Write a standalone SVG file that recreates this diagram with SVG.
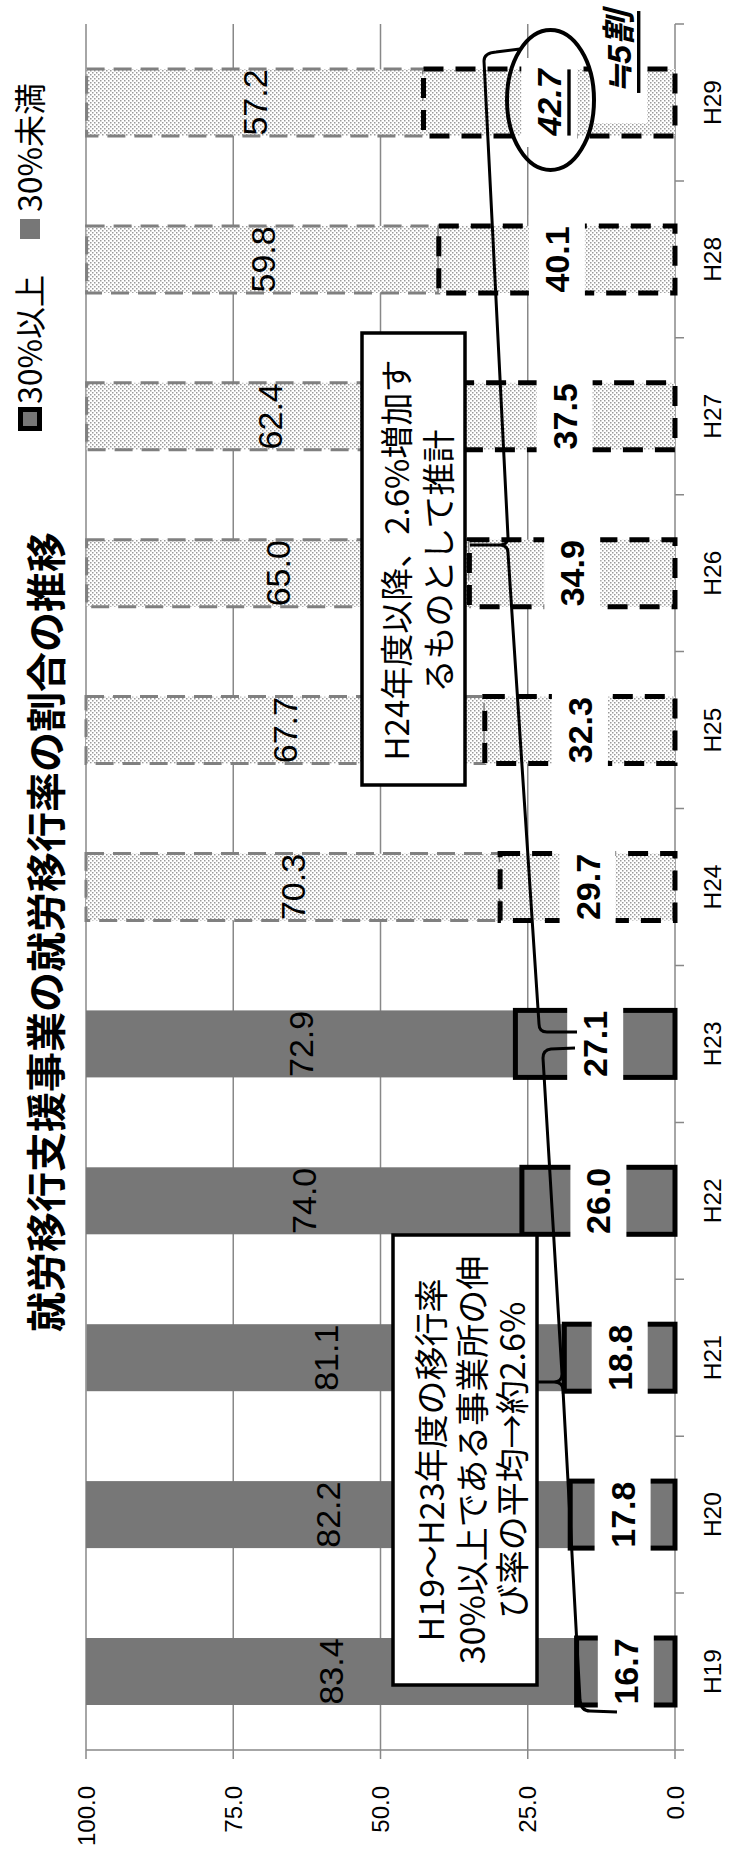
<svg xmlns="http://www.w3.org/2000/svg" width="731" height="1859" viewBox="0 0 731 1859">
<defs>
<pattern id="dots" width="4" height="4" patternUnits="userSpaceOnUse">
<rect width="4" height="4" fill="#ffffff"/>
<rect x="0" y="0" width="1.5" height="1.5" fill="#9a9a9a"/>
<rect x="2" y="2" width="1.5" height="1.5" fill="#9a9a9a"/>
</pattern>
</defs>
<style>
.grid{stroke:#888;stroke-width:1.5;fill:none}
.dk{fill:#777}
.dkb{fill:#777;stroke:#000;stroke-width:5}
.pt{fill:url(#dots);stroke:#808080;stroke-width:3;stroke-dasharray:18 9}
.ptb{fill:url(#dots);stroke:#000;stroke-width:5;stroke-dasharray:20 12}
.lbg{fill:#fff}
text{font-family:"Liberation Sans","Noto Sans CJK JP",sans-serif;fill:#000;dominant-baseline:central}
.v{font-size:34px;text-anchor:middle}
.vb{font-size:34px;font-weight:bold;text-anchor:middle}
.ax{font-size:24px;text-anchor:end}
.cat{font-size:24.5px;text-anchor:middle}
.jp{font-family:"Noto Sans CJK JP",sans-serif;text-anchor:middle}
.box{fill:#fff;stroke:#000;stroke-width:3.5}
.br{fill:none;stroke:#000;stroke-width:3;stroke-linejoin:round}
</style>
<rect width="731" height="1859" fill="#fff"/>

<g id="title">
<text class="jp" font-size="40" font-weight="bold" transform="translate(44 932) rotate(-90)">就労移行支援事業の就労移行率の割合の推移</text>
</g>

<g id="legend">
<rect x="20.5" y="409.5" width="19" height="19" class="dkb"/>
<text class="jp" font-size="32" style="text-anchor:start" transform="translate(28 404) rotate(-90)">30%以上</text>
<rect x="20" y="219" width="20" height="20" class="dk"/>
<text class="jp" font-size="32" style="text-anchor:start" transform="translate(28 212) rotate(-90)">30%未満</text>
</g>

<g id="axes">
<line class="grid" x1="86" y1="24" x2="86" y2="1759"/>
<line class="grid" x1="233.25" y1="24" x2="233.25" y2="1759"/>
<line class="grid" x1="380.5" y1="24" x2="380.5" y2="1759"/>
<line class="grid" x1="527.75" y1="24" x2="527.75" y2="1759"/>
<line class="grid" x1="675" y1="24" x2="675" y2="1759"/>
<line class="grid" x1="86" y1="1750" x2="684" y2="1750"/>
<path class="grid" d="M675 24H684M675 180.9H684M675 337.8H684M675 494.7H684M675 651.6H684M675 808.5H684M675 965.5H684M675 1122.4H684M675 1279.3H684M675 1436.2H684M675 1593.1H684"/>
<text class="ax" transform="translate(86 1786) rotate(-90)">100.0</text>
<text class="ax" transform="translate(233.25 1786) rotate(-90)">75.0</text>
<text class="ax" transform="translate(380.5 1786) rotate(-90)">50.0</text>
<text class="ax" transform="translate(527.75 1786) rotate(-90)">25.0</text>
<text class="ax" transform="translate(675 1786) rotate(-90)">0.0</text>
<text class="cat" transform="translate(712 1671.5) rotate(-90)">H19</text>
<text class="cat" transform="translate(712 1514.6) rotate(-90)">H20</text>
<text class="cat" transform="translate(712 1357.7) rotate(-90)">H21</text>
<text class="cat" transform="translate(712 1200.8) rotate(-90)">H22</text>
<text class="cat" transform="translate(712 1043.9) rotate(-90)">H23</text>
<text class="cat" transform="translate(712 887) rotate(-90)">H24</text>
<text class="cat" transform="translate(712 730.1) rotate(-90)">H25</text>
<text class="cat" transform="translate(712 573.2) rotate(-90)">H26</text>
<text class="cat" transform="translate(712 416.3) rotate(-90)">H27</text>
<text class="cat" transform="translate(712 259.4) rotate(-90)">H28</text>
<text class="cat" transform="translate(712 102.5) rotate(-90)">H29</text>
</g>

<g id="bars">
<g id="bar-H19"><rect class="dk" x="86" y="1638" width="490.6" height="67"/><rect class="dkb" x="576.6" y="1638" width="98.4" height="67"/></g>
<g id="bar-H20"><rect class="dk" x="86" y="1481.1" width="484.2" height="67"/><rect class="dkb" x="570.2" y="1481.1" width="104.8" height="67"/></g>
<g id="bar-H21"><rect class="dk" x="86.6" y="1324.2" width="477.7" height="67"/><rect class="dkb" x="564.3" y="1324.2" width="110.7" height="67"/></g>
<g id="bar-H22"><rect class="dk" x="86" y="1167.3" width="435.9" height="67"/><rect class="dkb" x="521.9" y="1167.3" width="153.1" height="67"/></g>
<g id="bar-H23"><rect class="dk" x="86" y="1010.4" width="429.4" height="67"/><rect class="dkb" x="515.4" y="1010.4" width="159.6" height="67"/></g>
<g id="bar-H24"><rect class="pt" x="86" y="853.5" width="414.1" height="67"/><rect class="ptb" x="500.1" y="853.5" width="174.9" height="67"/></g>
<g id="bar-H25"><rect class="pt" x="86" y="696.6" width="398.8" height="67"/><rect class="ptb" x="484.8" y="696.6" width="190.2" height="67"/></g>
<g id="bar-H26"><rect class="pt" x="86.6" y="539.7" width="382.8" height="67"/><rect class="ptb" x="469.4" y="539.7" width="205.6" height="67"/></g>
<g id="bar-H27"><rect class="pt" x="86.6" y="382.8" width="367.5" height="67"/><rect class="ptb" x="454.1" y="382.8" width="220.9" height="67"/></g>
<g id="bar-H28"><rect class="pt" x="86.6" y="225.9" width="352.2" height="67"/><rect class="ptb" x="438.8" y="225.9" width="236.2" height="67"/></g>
<g id="bar-H29"><rect class="pt" x="86.6" y="69" width="336.9" height="67"/><rect class="ptb" x="423.5" y="69" width="251.5" height="67"/></g>
</g>

<g id="labels-under30">
<text class="v" transform="translate(331.3 1671.5) rotate(-90)">83.4</text>
<text class="v" transform="translate(328.1 1514.6) rotate(-90)">82.2</text>
<text class="v" transform="translate(325.5 1357.7) rotate(-90)">81.1</text>
<text class="v" transform="translate(304 1200.8) rotate(-90)">74.0</text>
<text class="v" transform="translate(300.7 1043.9) rotate(-90)">72.9</text>
<text class="v" transform="translate(293 887) rotate(-90)">70.3</text>
<text class="v" transform="translate(285.4 730.1) rotate(-90)">67.7</text>
<text class="v" transform="translate(278 573.2) rotate(-90)">65.0</text>
<text class="v" transform="translate(270.4 416.3) rotate(-90)">62.4</text>
<text class="v" transform="translate(262.7 259.4) rotate(-90)">59.8</text>
<text class="v" transform="translate(255 102.5) rotate(-90)">57.2</text>
</g>

<g id="labels-over30">
<rect class="lbg" x="597.8" y="1627" width="56" height="89"/>
<text class="vb" transform="translate(625.8 1671.5) rotate(-90)">16.7</text>
<rect class="lbg" x="594.6" y="1470.1" width="56" height="89"/>
<text class="vb" transform="translate(622.6 1514.6) rotate(-90)">17.8</text>
<rect class="lbg" x="591.7" y="1313.2" width="56" height="89"/>
<text class="vb" transform="translate(619.7 1357.7) rotate(-90)">18.8</text>
<rect class="lbg" x="570.4" y="1156.3" width="56" height="89"/>
<text class="vb" transform="translate(598.4 1200.8) rotate(-90)">26.0</text>
<rect class="lbg" x="567.2" y="999.4" width="56" height="89"/>
<text class="vb" transform="translate(595.2 1043.9) rotate(-90)">27.1</text>
<rect class="lbg" x="559.6" y="842.5" width="56" height="89"/>
<text class="vb" transform="translate(587.6 887) rotate(-90)">29.7</text>
<rect class="lbg" x="551.9" y="685.6" width="56" height="89"/>
<text class="vb" transform="translate(579.9 730.1) rotate(-90)">32.3</text>
<rect class="lbg" x="544.2" y="528.7" width="56" height="89"/>
<text class="vb" transform="translate(572.2 573.2) rotate(-90)">34.9</text>
<rect class="lbg" x="536.6" y="371.8" width="56" height="89"/>
<text class="vb" transform="translate(564.6 416.3) rotate(-90)">37.5</text>
<rect class="lbg" x="528.9" y="214.9" width="56" height="89"/>
<text class="vb" transform="translate(556.9 259.4) rotate(-90)">40.1</text>
<rect class="lbg" x="521.3" y="58" width="56" height="89"/>
<text class="vb" font-style="italic" text-decoration="underline" transform="translate(549.3 102.5) rotate(-90)">42.7</text>
</g>

<g id="note-half">
<rect class="lbg" x="590" y="0" width="57" height="123"/>
<text class="vb" font-style="italic" text-decoration="underline" transform="translate(619 52) rotate(-90)">≒5割</text>
</g>

<g id="circle">
<ellipse cx="550.5" cy="100" rx="43.5" ry="70" fill="none" stroke="#000" stroke-width="4"/>
</g>

<g id="connectors">
<path class="br" d="M520 49L496 52Q484 53 484 61L508 537Q508 545 500 545L470 545M500 545Q508 545 508 553L539 1024Q539 1032 547 1032L577 1032"/>
<path class="br" d="M575 1048L551 1049Q543 1050 543 1058L562 1374Q562 1382 554 1382L538 1382M554 1382Q563 1382 563 1390L580 1700Q581 1711 590 1711L617 1712"/>
</g>

<g id="box1">
<rect class="box" x="362" y="333" width="103" height="452"/>
<text class="jp" font-size="33" transform="translate(395 560) rotate(-90)">H24年度以降、2.6%増加す</text>
<text class="jp" font-size="33" transform="translate(437 561) rotate(-90)">るものとして推計</text>
</g>

<g id="box2">
<rect class="box" x="393" y="1235" width="144" height="450"/>
<text class="jp" font-size="34" transform="translate(429 1460) rotate(-90)">H19～H23年度の移行率</text>
<text class="jp" font-size="34" transform="translate(470 1460) rotate(-90)">30%以上である事業所の伸</text>
<text class="jp" font-size="34" transform="translate(510 1460) rotate(-90)">び率の平均→約2.6%</text>
</g>
</svg>
